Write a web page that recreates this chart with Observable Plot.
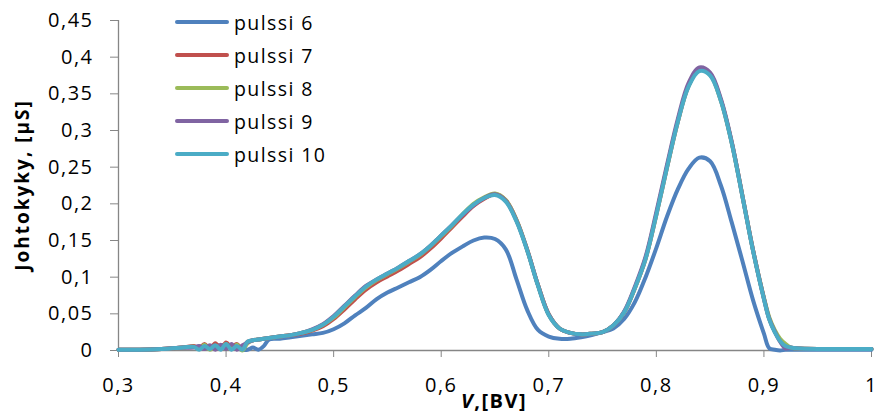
<!DOCTYPE html>
<html>
<head>
<meta charset="utf-8">
<script src="https://cdn.jsdelivr.net/npm/d3@7"></script>
<script src="https://cdn.jsdelivr.net/npm/@observablehq/plot@0.6"></script>
<style>
  body { margin: 0; background: #fff; }
  #chart { position: relative; width: 878px; height: 419px; font-family: "Open Sans", sans-serif; }
  #chart svg text { letter-spacing: 1.5px; }
  .legend { position: absolute; left: 175px; top: 5.5px; }
  .row { display: flex; align-items: center; height: 33px; font-size: 19.5px; letter-spacing: 1.4px; color: #000; }
  .swatch { width: 54px; height: 4px; border-radius: 2px; margin-right: 5px; }
</style>
</head>
<body>
<div id="chart"></div>
<script>
// Bias voltage grid shared by every pulse sweep
const volts = [
  0.30, 0.32, 0.34, 0.36,
  0.37, 0.375, 0.38, 0.385, 0.39, 0.395, 0.40, 0.405, 0.41, 0.415, 0.42, 0.425, 0.43, 0.435, 0.44,
  0.45, 0.46, 0.47, 0.48, 0.49, 0.50, 0.51, 0.52, 0.53, 0.54,
  0.55, 0.56, 0.57, 0.58, 0.59, 0.60, 0.61, 0.62, 0.63, 0.64,
  0.65, 0.66, 0.67, 0.68, 0.69, 0.70, 0.71, 0.72, 0.73, 0.74,
  0.75, 0.76, 0.77, 0.78, 0.79, 0.80, 0.81, 0.82, 0.83, 0.84,
  0.85, 0.86, 0.87, 0.88, 0.89, 0.90,
  0.905, 0.91, 0.915, 0.92, 0.925, 0.93, 0.95, 0.97, 1.00
];

// Conductance (µS) for each pulse
const pulssi6 = [
  0.001, 0.001, 0.002, 0.004,
  0.005, 0.005, 0.006, 0.006, 0.007, 0.007, 0.008, 0.006, 0.003, 0.001, 0.001, 0.004, 0.001, 0.006, 0.015,
  0.016, 0.018, 0.020, 0.022, 0.024, 0.029, 0.037, 0.048, 0.058, 0.070,
  0.079, 0.086, 0.093, 0.100, 0.110, 0.122, 0.133, 0.142, 0.150, 0.154,
  0.152, 0.138, 0.097, 0.055, 0.028, 0.019, 0.016, 0.016, 0.018, 0.021,
  0.025, 0.030, 0.043, 0.066, 0.100, 0.140, 0.183, 0.220, 0.248, 0.263,
  0.258, 0.225, 0.175, 0.122, 0.068, 0.023,
  0.003, 0.001, 0.000, 0.001, 0.001, 0.001, 0.001, 0.001, 0.001
];
const pulssi7 = [
  0.001, 0.001, 0.002, 0.004,
  0.006, 0.003, 0.009, 0.002, 0.010, 0.002, 0.011, 0.004, 0.009, 0.002, 0.012, 0.014, 0.015, 0.016, 0.017,
  0.019, 0.021, 0.023, 0.027, 0.033, 0.043, 0.056, 0.070, 0.083, 0.093,
  0.101, 0.109, 0.118, 0.127, 0.139, 0.153, 0.168, 0.183, 0.197, 0.207,
  0.213, 0.205, 0.178, 0.137, 0.089, 0.049, 0.030, 0.024, 0.022, 0.023,
  0.025, 0.034, 0.052, 0.085, 0.125, 0.185, 0.250, 0.312, 0.361, 0.384,
  0.377, 0.341, 0.284, 0.211, 0.136, 0.071,
  0.043, 0.026, 0.014, 0.007, 0.004, 0.003, 0.002, 0.002, 0.002
];
const pulssi8 = [
  0.001, 0.001, 0.002, 0.004,
  0.005, 0.002, 0.008, 0.001, 0.006, 0.003, 0.009, 0.002, 0.008, 0.000, 0.010, 0.014, 0.015, 0.016, 0.017,
  0.019, 0.021, 0.024, 0.028, 0.035, 0.045, 0.059, 0.073, 0.086, 0.096,
  0.104, 0.112, 0.121, 0.130, 0.142, 0.156, 0.170, 0.186, 0.200, 0.209,
  0.214, 0.205, 0.178, 0.137, 0.089, 0.049, 0.030, 0.024, 0.022, 0.023,
  0.025, 0.034, 0.052, 0.085, 0.126, 0.186, 0.251, 0.313, 0.361, 0.383,
  0.376, 0.341, 0.284, 0.211, 0.136, 0.072,
  0.045, 0.028, 0.016, 0.009, 0.004, 0.003, 0.002, 0.002, 0.002
];
const pulssi9 = [
  0.001, 0.001, 0.002, 0.004,
  0.004, 0.006, 0.002, 0.007, 0.001, 0.008, 0.002, 0.009, 0.001, 0.007, 0.011, 0.014, 0.015, 0.016, 0.017,
  0.019, 0.021, 0.024, 0.029, 0.036, 0.047, 0.061, 0.075, 0.088, 0.097,
  0.105, 0.113, 0.122, 0.131, 0.143, 0.157, 0.171, 0.185, 0.198, 0.208,
  0.213, 0.204, 0.177, 0.137, 0.089, 0.049, 0.030, 0.024, 0.022, 0.023,
  0.025, 0.034, 0.053, 0.087, 0.128, 0.189, 0.254, 0.316, 0.365, 0.386,
  0.379, 0.343, 0.285, 0.211, 0.136, 0.071,
  0.043, 0.026, 0.012, 0.003, 0.004, 0.003, 0.002, 0.002, 0.002
];
const pulssi10 = [
  0.001, 0.001, 0.002, 0.004,
  0.005, 0.001, 0.006, 0.002, 0.007, 0.001, 0.009, 0.001, 0.006, 0.001, 0.012, 0.014, 0.015, 0.016, 0.017,
  0.019, 0.021, 0.024, 0.028, 0.035, 0.046, 0.060, 0.074, 0.087, 0.097,
  0.105, 0.113, 0.122, 0.131, 0.143, 0.157, 0.171, 0.186, 0.199, 0.208,
  0.212, 0.203, 0.176, 0.136, 0.088, 0.048, 0.030, 0.024, 0.022, 0.023,
  0.025, 0.034, 0.052, 0.085, 0.125, 0.185, 0.250, 0.312, 0.360, 0.381,
  0.375, 0.340, 0.283, 0.210, 0.135, 0.070,
  0.042, 0.025, 0.013, 0.006, 0.004, 0.003, 0.002, 0.002, 0.002
];

const seriesNames = ["pulssi 6", "pulssi 7", "pulssi 8", "pulssi 9", "pulssi 10"];
const seriesValues = [pulssi6, pulssi7, pulssi8, pulssi9, pulssi10];
const seriesColors = ["#4F81BD", "#C0504D", "#9BBB59", "#8064A2", "#4BACC6"];

const xTicks = [0.3, 0.4, 0.5, 0.6, 0.7, 0.8, 0.9, 1.0];
const yTicks = [0, 0.05, 0.1, 0.15, 0.2, 0.25, 0.3, 0.35, 0.4, 0.45];

const comma = d => String(+d.toFixed(2)).replace(".", ",");

const rows = seriesNames.flatMap((name, i) =>
  volts.map((v, j) => ({series: name, v, g: seriesValues[i][j]}))
);

const axisGray = "#868686";

const plot = Plot.plot({
  width: 878,
  height: 419,
  marginLeft: 118,
  marginRight: 7,
  marginTop: 20,
  marginBottom: 69,
  style: {fontFamily: "'Open Sans', sans-serif", fontSize: "20px", background: "#fff", color: "#000"},
  x: {domain: [0.3, 1], label: null},
  y: {domain: [0, 0.45], label: null},
  color: {domain: seriesNames, range: seriesColors},
  marks: [
    Plot.axisX({ticks: xTicks, tickSize: 7, tickPadding: 20, tickFormat: comma, stroke: axisGray, fill: "#000", label: null}),
    Plot.axisY({ticks: yTicks, tickSize: 8, tickPadding: 17, tickFormat: comma, stroke: axisGray, fill: "#000", label: null}),
    Plot.ruleY([0], {stroke: axisGray, strokeWidth: 1.3}),
    Plot.ruleX([0.3], {stroke: axisGray, strokeWidth: 1.3}),
    Plot.line(rows, {
      x: "v", y: "g", z: "series", stroke: "series",
      strokeWidth: 4, curve: "catmull-rom",
      strokeLinejoin: "round", strokeLinecap: "round"
    })
  ]
});

const svg = d3.select(plot);

// Y axis title
svg.append("text")
  .attr("transform", "translate(29,185) rotate(-90)")
  .attr("text-anchor", "middle")
  .attr("font-weight", "bold")
  .attr("font-size", 19)
  .style("letter-spacing", "2px")
  .attr("fill", "#000")
  .text("Johtokyky, [µS]");

// X axis title: italic V followed by the unit
const xt = svg.append("text")
  .attr("x", 494)
  .attr("y", 408)
  .attr("text-anchor", "middle")
  .attr("font-weight", "bold")
  .attr("font-size", 20)
  .attr("fill", "#000");
xt.append("tspan").attr("font-style", "italic").text("V");
xt.append("tspan").text(",[BV]");

const chart = document.getElementById("chart");
chart.appendChild(plot);

// Legend
const legend = document.createElement("div");
legend.className = "legend";
seriesNames.forEach((name, i) => {
  const row = document.createElement("div");
  row.className = "row";
  const sw = document.createElement("div");
  sw.className = "swatch";
  sw.style.background = seriesColors[i];
  const label = document.createElement("span");
  label.textContent = name;
  row.appendChild(sw);
  row.appendChild(label);
  legend.appendChild(row);
});
chart.appendChild(legend);
</script>
</body>
</html>
